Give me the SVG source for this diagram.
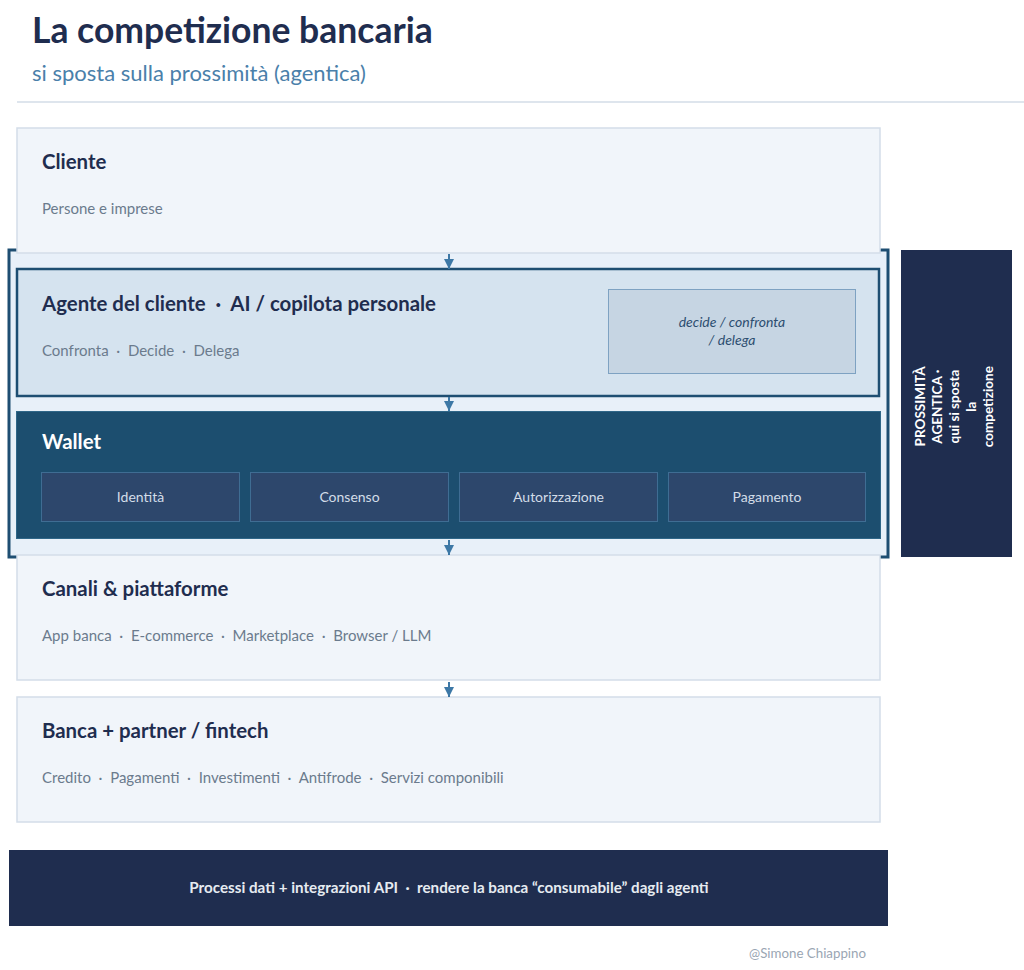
<svg xmlns="http://www.w3.org/2000/svg" width="1024" height="970" viewBox="0 0 1024 970">
<defs>
<marker id="ah" viewBox="0 0 10 10" refX="10" refY="5" markerWidth="10" markerHeight="11" markerUnits="userSpaceOnUse" orient="auto">
<path d="M0,0 L10,5 L0,10 Z" fill="#3d78a6"/>
</marker>
<style>
text{font-family:Lato,"Open Sans","Liberation Sans",sans-serif;white-space:pre}
.h{font-size:20.4px;font-weight:700;fill:#1f2d4f}
.s{font-size:15px;fill:#6b7b8d}
.layer{fill:#f1f5fa;stroke:#d3dde9;stroke-width:1.5}
.sub{fill:#2d476c;stroke:#3f6d93;stroke-width:1}
.subt{font-size:14px;fill:#d3dde8;text-anchor:middle}
.arr{stroke:#3d78a6;stroke-width:2;fill:none}
</style>
</defs>
<rect width="1024" height="970" fill="#ffffff"/>
<g id="title">
<text x="32" y="43" style="font-size:35.5px;font-weight:700;fill:#1f2d4f">La competizione bancaria</text>
<text x="32" y="81" style="font-size:22px;fill:#4a80aa">si sposta sulla prossimità (agentica)</text>
<line x1="17" y1="102" x2="1024" y2="102" stroke="#d3dde7" stroke-width="1.5"/>
</g>
<g id="bracket">
<rect x="9" y="250" width="879" height="307" fill="#e8f0f9" stroke="#1e4e72" stroke-width="3"/>
</g>
<g id="cliente">
<rect class="layer" x="17" y="128" width="863" height="125"/>
<text class="h" x="42" y="169">Cliente</text>
<text class="s" x="42" y="214">Persone e imprese</text>
</g>
<g id="agente">
<rect x="17" y="269" width="862" height="127" fill="#d5e3ef" stroke="#1e4e72" stroke-width="2.5"/>
<text class="h" x="42" y="311">Agente del cliente  ·  AI / copilota personale</text>
<text class="s" x="42" y="356">Confronta  ·  Decide  ·  Delega</text>
<g id="agente-note">
<rect x="608.5" y="289.5" width="247" height="84" fill="#c6d5e3" stroke="#7ea2c2" stroke-width="1"/>
<text x="732" y="327" text-anchor="middle" style="font-size:14px;font-style:italic;fill:#2d4e70">decide / confronta</text>
<text x="732" y="345" text-anchor="middle" style="font-size:14px;font-style:italic;fill:#2d4e70">/ delega</text>
</g>
</g>
<g id="wallet">
<rect x="16.5" y="411.5" width="864" height="127" fill="#1c4e6f" stroke="#2f6688" stroke-width="1"/>
<text x="42" y="449" style="font-size:20.4px;font-weight:700;fill:#ffffff">Wallet</text>
<g id="identita"><rect class="sub" x="41.5" y="472.5" width="198" height="49"/><text class="subt" x="140.5" y="502">Identità</text></g>
<g id="consenso"><rect class="sub" x="250.5" y="472.5" width="198" height="49"/><text class="subt" x="349.5" y="502">Consenso</text></g>
<g id="autorizzazione"><rect class="sub" x="459.5" y="472.5" width="198" height="49"/><text class="subt" x="558.5" y="502">Autorizzazione</text></g>
<g id="pagamento"><rect class="sub" x="668.5" y="472.5" width="197" height="49"/><text class="subt" x="767" y="502">Pagamento</text></g>
</g>
<g id="canali">
<rect class="layer" x="17" y="555" width="863" height="125"/>
<text class="h" x="42" y="596">Canali &amp; piattaforme</text>
<text class="s" x="42" y="641">App banca  ·  E-commerce  ·  Marketplace  ·  Browser / LLM</text>
</g>
<g id="banca">
<rect class="layer" x="17" y="697" width="863" height="125"/>
<text class="h" x="42" y="738">Banca + partner / fintech</text>
<text class="s" x="42" y="783">Credito  ·  Pagamenti  ·  Investimenti  ·  Antifrode  ·  Servizi componibili</text>
</g>
<g id="connectors">
<line class="arr" x1="449" y1="254" x2="449" y2="269" marker-end="url(#ah)"/>
<line class="arr" x1="449" y1="397" x2="449" y2="411" marker-end="url(#ah)"/>
<line class="arr" x1="449" y1="540" x2="449" y2="555" marker-end="url(#ah)"/>
<line class="arr" x1="449" y1="682" x2="449" y2="697" marker-end="url(#ah)"/>
</g>
<g id="prossimita">
<rect x="901" y="250" width="111" height="307" fill="#1f2d4f"/>
<text transform="translate(925,405) rotate(-90)" text-anchor="middle" style="font-size:13.5px;font-weight:700;fill:#ffffff">
<tspan x="0" y="0">PROSSIMITÀ</tspan>
<tspan x="0" dy="17">AGENTICA ·</tspan>
<tspan x="0" dy="17">qui si sposta</tspan>
<tspan x="0" dy="17">la</tspan>
<tspan x="0" dy="17">competizione</tspan>
</text>
</g>
<g id="footer">
<rect x="9" y="850" width="879" height="76" fill="#1f2d4f"/>
<text x="449" y="893" text-anchor="middle" style="font-size:15.2px;font-weight:700;fill:#e6ebf1">Processi dati + integrazioni API  ·  rendere la banca “consumabile” dagli agenti</text>
</g>
<g id="credit">
<text x="866" y="958" text-anchor="end" style="font-size:13.3px;fill:#9aa6b3">@Simone Chiappino</text>
</g>
</svg>
